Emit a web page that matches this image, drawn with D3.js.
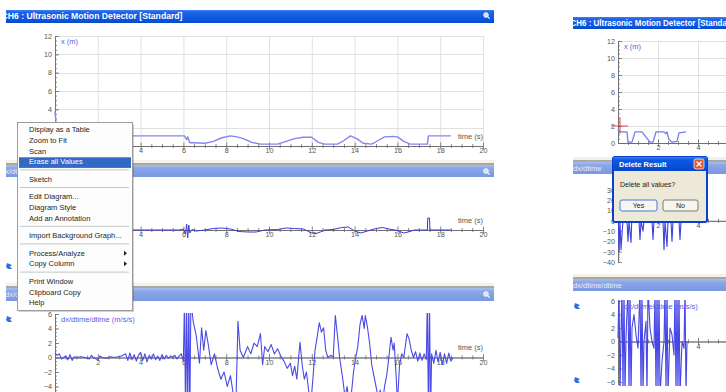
<!DOCTYPE html>
<html>
<head>
<meta charset="utf-8">
<script src="https://cdn.jsdelivr.net/npm/d3@7"></script>
<style>
  html, body { margin: 0; padding: 0; background: #fff; }
  svg { display: block; font-family: "Liberation Sans", Arial, sans-serif; }
</style>
</head>
<body>
<svg id="c" width="726" height="392"></svg>
<script>
// ---------------- data ----------------
const timeTicks = [2, 4, 6, 8, 10, 12, 14, 16, 18, 20];
const posYTicks = [0, 2, 4, 6, 8, 10, 12];
const velYTicksL = [];
const velYTicksR = [-40, -30, -20, -10, 0, 10, 20, 30];
const accYTicksL = [-4, -2, 0, 2, 4, 6];
const accYTicksR = [-6, -4, -2, 0, 2, 4, 6];

// position x (m) vs time (s), main run
const posT = [0, 0.05, 0.1, 6.05, 6.15, 6.2, 6.3, 6.5, 7.0, 7.4, 7.8, 8.2, 8.5, 8.8, 9.2, 9.6, 10.4, 10.8, 11.2, 11.6, 12.0, 12.3, 12.6, 13.2, 13.5, 13.8, 14.1, 14.4, 14.8, 15.1, 15.4, 15.8, 16.0, 16.3, 16.6, 17.4, 17.45, 18.5];
const posX = [3.8, 2.5, 1.1, 1.1, 0.7, 1.0, 0.35, 0.35, 0.3, 0.5, 0.9, 1.1, 1.0, 0.8, 0.4, 0.2, 0.2, 0.5, 0.8, 0.95, 0.95, 0.4, 0.2, 0.2, 0.6, 1.1, 0.8, 0.3, 0.2, 0.6, 1.0, 1.05, 1.0, 0.5, 0.2, 0.2, 1.1, 1.1];

// velocity dx/dtime (m/s)
const velT = [0, 0.1, 0.2, 1, 2, 3, 4, 5, 5.8, 6.0, 6.1, 6.15, 6.2, 6.25, 6.3, 6.4, 6.6, 7.0, 7.4, 7.8, 8.2, 8.6, 9.0, 9.4, 9.8, 10.4, 10.8, 11.2, 11.6, 12.0, 12.2, 12.4, 12.6, 13.0, 13.4, 13.7, 14.0, 14.3, 14.6, 15.0, 15.3, 15.6, 16.0, 16.3, 16.5, 16.8, 17.2, 17.4, 17.42, 17.5, 17.52, 17.7, 18.2, 18.5];
const velV = [-25, -10, 0, 0, 0, 0, 0, 0, 0, 1, -4, 6, -8, 5, -3, 0.5, -1, 0, 1.5, 2, 1, -1.5, -2, -2, 0, 0.5, 2, 1.5, 1, -3, -3.5, -2, 0, 0.5, 2.5, 3, -1, -3, -1, 1.5, 2.5, 1, -0.5, -3, -2, 0, 0, 0, 12, 12, 0, 0, 0, 0];

// acceleration dx/dtime/dtime (m/s/s)
const accT = [0, 0.1, 0.2, 0.3, 0.5, 0.6, 0.7, 0.8, 0.9, 1.0, 1.2, 1.4, 1.6, 1.7, 1.8, 2.0, 2.1, 2.2, 2.4, 2.6, 2.8, 3.1, 3.3, 3.4, 3.5, 3.6, 3.7, 3.8, 3.9, 4.0, 4.1, 4.2, 4.3, 4.4, 4.5, 4.6, 4.7, 4.8, 4.9, 5.0, 5.1, 5.2, 5.3, 5.4, 5.5, 5.6, 5.7, 5.8, 5.9, 6.0,
  6.05, 6.1, 6.15, 6.2, 6.25, 6.3, 6.35, 6.45, 6.6, 6.75, 6.85, 6.95, 7.05, 7.15, 7.3, 7.45, 7.6, 7.75, 7.9, 8.05, 8.2, 8.35, 8.45, 8.55, 8.65, 8.8, 9.0, 9.15, 9.3, 9.45, 9.6, 9.7, 9.8, 9.95, 10.1, 10.25, 10.4, 10.55, 10.7, 10.85, 11.0, 11.1, 11.2, 11.3, 11.4, 11.45, 11.55, 11.65, 11.75, 11.85, 11.95,
  12.05, 12.15, 12.25, 12.35, 12.45, 12.55, 12.65, 12.75, 12.9, 13.0, 13.1, 13.2, 13.3, 13.45, 13.55, 13.65, 13.75, 13.85, 13.95, 14.05, 14.15, 14.25, 14.35, 14.45, 14.5, 14.6, 14.7, 14.8, 14.9, 15.0, 15.1, 15.2, 15.3, 15.4, 15.5, 15.6, 15.7, 15.8, 15.85, 15.95, 16.0, 16.1, 16.2, 16.3, 16.45, 16.55, 16.65, 16.75, 16.85, 16.95,
  17.05, 17.15, 17.25, 17.35, 17.4, 17.45, 17.5, 17.55, 17.6, 17.7, 17.8, 17.9, 18.0, 18.1, 18.2, 18.3, 18.4, 18.5, 18.6];
const accA = [0.6, 0.3, 0.5, -0.2, 0.2, -0.3, 0.4, -0.4, 0.1, 0, 0.1, 0, -0.2, 0.3, 0, -0.3, 0.2, 0, -0.1, 0.1, 0, 0.2, 0.5, -0.4, 0.6, -0.3, 0.4, -0.5, 0.3, 0.7, -0.4, 0.5, -0.6, 0.3, -0.2, 0.5, -0.3, 0.2, -0.4, 0.4, -0.2, 0.3, -0.1, 0.2, 0, 0.3, -0.2, 0.2, 0.5, -0.5,
  8, -8, 8, -8, 8, -8, 8, 5.1, 3, -0.8, 4.1, 1, 3.7, 2, -1, 0.5, -1.5, -3, -2, -4, -2.5, -5.5, -7, 5, 1, 0, 1.5, 0.5, 2, 1.5, 3.3, -1, 1.5, 0.8, 1.8, 0.5, 1.2, 0.2, -0.5, -1.5, -0.8, -2.5, -1.2, -3, 0.5, 2.1, -1, -3, -2, -4.5, -6.5,
  -3, 1, 2.8, 4.8, 3.5, 4.1, 1, 0, 0.3, 0, 5.8, 3, 0, -3, -5.5, -4, -6.5, -5, -2, 0, 1.5, 4.5, 5.8, 4, 5.8, 4.2, 2, -1, -2.5, -4, -5.5, -4.5, -6.5, -4, -2.5, 0, 2.8, 1, 2, -3, -6.5, -1, 0.5, 0, 3.3, 2.5, 1, 0, 0.8, -0.5,
  0.6, -0.4, 0.5, -0.3, 8, -8, 8, -8, 0.5, -0.8, 1, -0.6, 0.7, -1, 0.5, -0.8, 0.6, -0.5, 0];

// second run (short recording)
const rPosT = [0, 0.05, 0.45, 0.5, 0.7, 0.85, 1.2, 1.4, 1.6, 1.75, 1.9, 2.3, 2.4, 2.45, 2.55, 2.7, 2.95, 3.05, 3.4];
const rPosX = [1.6, 1.3, 1.3, 0.1, 0.1, 1.3, 1.3, 0.7, 0.1, 0.1, 1.3, 1.3, 1.1, 1.3, 0.4, 0.1, 0.2, 1.2, 1.3];
const rVelT = [0, 0.05, 0.1, 0.15, 0.3, 0.45, 0.5, 0.55, 0.65, 0.7, 0.9, 1.05, 1.1, 1.15, 1.25, 1.3, 1.5, 1.7, 1.75, 1.8, 1.9, 2.25, 2.3, 2.35, 2.45, 2.5, 2.65, 2.7, 2.75, 3.0, 3.05, 3.1, 3.15, 3.4];
const rVelV = [20, -30, 0, -28, 15, 0, -20, 0, -21, 8, 20, 0, -18, 0, -10, 0, 2, 0, -18, 0, 18, 0, -28, 0, -25, 0, 0, -20, 0, 15, 0, -18, 0, 0];
const rAccT = [0, 0.05, 0.1, 0.15, 0.2, 0.25, 0.3, 0.35, 0.4, 0.5, 0.55, 0.6, 0.65, 0.7, 0.8, 0.9, 1.0, 1.1, 1.15, 1.2, 1.25, 1.3, 1.4, 1.45, 1.5, 1.6, 1.7, 1.8, 1.85, 1.9, 1.95, 2.0, 2.05, 2.1, 2.2, 2.3, 2.35, 2.4, 2.45, 2.5, 2.6, 2.7, 2.8, 2.85, 2.9, 2.95, 3.0, 3.05, 3.1, 3.2, 3.3, 3.35, 3.4, 3.45];
const rAccA = [0.5, 8, -8, 1, 8, -8, 8, -8, 0.5, 8, -8, 8, -8, 2, 4, 1, -1, 8, -8, 8, -8, 0, 3, -8, 8, 2, 0, -1, 8, -8, 8, -8, 8, -8, -3, 0, 8, -8, 8, -8, 2, 1, -2, 8, -8, 8, -8, 8, -8, 0, -1, 8, -8, 0];

const menuItems = ["Display as a Table", "Zoom to Fit", "Scan", "Erase all Values", "-", "Sketch", "-", "Edit Diagram...", "Diagram Style", "Add an Annotation", "-", "Import Background Graph...", "-", "Process/Analyze>", "Copy Column>", "-", "Print Window", "Clipboard Copy", "Help"];
const highlighted = "Erase all Values";

// ---------------- drawing ----------------
const W = 726, H = 392;
const svg = d3.select("#c");
const defs = svg.append("defs");

function vgrad(id, stops) {
  const g = defs.append("linearGradient").attr("id", id)
    .attr("x1", 0).attr("y1", 0).attr("x2", 0).attr("y2", 1);
  stops.forEach(([o, c]) => g.append("stop").attr("offset", o).attr("stop-color", c));
}
vgrad("gActive", [[0, "#3d80f4"], [0.18, "#1c63ea"], [0.8, "#0853dd"], [1, "#0a48c6"]]);
vgrad("gInactive", [[0, "#a9bff0"], [0.25, "#8ba7e7"], [1, "#7a98e0"]]);
vgrad("gDlg", [[0, "#3d80f4"], [0.2, "#0a5ae6"], [1, "#0747cc"]]);

function addClip(id, x, y, w, h) {
  defs.append("clipPath").attr("id", id).append("rect")
    .attr("x", x).attr("y", y).attr("width", w).attr("height", h);
}
addClip("clipL", 6, 0, 488, H);
addClip("clipR", 573, 0, W - 573, H);

const left = svg.append("g").attr("clip-path", "url(#clipL)");
const right = svg.append("g").attr("clip-path", "url(#clipR)");

function header(g, x, y, w, h, label, active, textX, textLen) {
  g.append("rect").attr("x", x).attr("y", y).attr("width", w).attr("height", h)
    .attr("fill", active ? "url(#gActive)" : "url(#gInactive)");
  const t = g.append("text").attr("x", textX).attr("y", y + h / 2 + 2.9)
    .attr("fill", active ? "#ffffff" : "#e6ecfb")
    .attr("font-size", active ? 8.3 : 7.5)
    .attr("font-weight", active ? "bold" : "normal")
    .text(label);
  if (textLen) t.attr("textLength", textLen).attr("lengthAdjust", "spacingAndGlyphs");
}
function separator(g, x, y, w) {
  g.append("rect").attr("x", x).attr("y", y - 3).attr("width", w).attr("height", 3).attr("fill", "#f3f1ea");
  g.append("rect").attr("x", x).attr("y", y).attr("width", w).attr("height", 2).attr("fill", "#a9a8a2");
}
function magnifier(g, cx, cy) {
  g.append("circle").attr("cx", cx).attr("cy", cy).attr("r", 2.3)
    .attr("fill", "#cfe0ff").attr("stroke", "#ffffff").attr("stroke-width", 0.9);
  g.append("line").attr("x1", cx + 1.6).attr("y1", cy + 1.6).attr("x2", cx + 3.6).attr("y2", cy + 3.6)
    .attr("stroke", "#ffffff").attr("stroke-width", 1.2);
}
function blueIcon(g, x, y) {
  g.append("path")
    .attr("d", `M${x - 2},${y - 3} L${x + 3},${y - 1} L${x + 1},${y + 0.5} L${x + 3},${y + 3} L${x - 1},${y + 3} L${x - 3},${y + 1} Z`)
    .attr("fill", "#2f74d6");
}

function drawChart(g, cfg) {
  const x = d3.scaleLinear().domain([0, 20]).range([cfg.left, cfg.left + cfg.secPx * 20]);
  const y = d3.scaleLinear().domain(cfg.yDomain).range(cfg.yRange);
  const yTop = y(cfg.yDomain[1]);
  const visT = timeTicks.filter(v => x(v) < cfg.maxX);

  if (cfg.grid) {
    const gg = g.append("g").attr("stroke", "#e1e1e1").attr("stroke-width", 1);
    gg.selectAll("line.v").data(d3.range(0, 21, 2)).join("line")
      .attr("x1", d => x(d) + 0.5).attr("x2", d => x(d) + 0.5)
      .attr("y1", y(cfg.yDomain[1])).attr("y2", y(0));
    gg.selectAll("line.h").data(d3.range(0, cfg.yDomain[1] + 1, 2)).join("line")
      .attr("x1", x(0)).attr("x2", x(20))
      .attr("y1", d => Math.round(y(d)) + 0.5).attr("y2", d => Math.round(y(d)) + 0.5);
  }

  // y axis: ruler-style ticks pointing into the plot, labels to the left
  const minorY = d3.range(cfg.yDomain[0], cfg.yDomain[1] + 1e-9, cfg.yMinor);
  const yMin = g.append("g").attr("transform", `translate(${x(0)},0)`)
    .call(d3.axisLeft(y).tickValues(minorY).tickSize(-2).tickSizeOuter(0).tickFormat(""));
  const yAx = g.append("g").attr("transform", `translate(${x(0)},0)`)
    .call(d3.axisLeft(y).tickValues(cfg.yTicks).tickSize(-4).tickSizeOuter(0).tickPadding(3));
  [yMin, yAx].forEach(a => {
    a.attr("font-family", null).attr("font-size", null);
    a.selectAll("path,line").attr("stroke", "#707070").attr("stroke-width", 0.8);
  });
  yAx.selectAll("text").attr("fill", "#555").attr("font-size", 7.2);

  // x axis: ticks cross the line
  const minorX = d3.range(1, 40).map(i => i / 2).filter(v => v % 2 !== 0);
  const xMin = g.append("g").attr("transform", `translate(0,${y(0)})`)
    .call(d3.axisBottom(x).tickValues(minorX).tickSize(2).tickSizeOuter(0).tickFormat(""));
  xMin.selectAll(".tick line").attr("y1", -2);
  const xAx = g.append("g").attr("transform", `translate(0,${y(0)})`)
    .call(d3.axisBottom(x).tickValues(visT).tickSize(3.5).tickSizeOuter(0).tickPadding(-1.5).tickFormat(d3.format("d")));
  xAx.selectAll(".tick line").attr("y1", -3.5);
  [xMin, xAx].forEach(a => {
    a.attr("font-family", null).attr("font-size", null);
    a.selectAll("path,line").attr("stroke", "#6a6a6a").attr("stroke-width", 0.8);
  });
  xAx.selectAll("text").attr("fill", "#555").attr("font-size", 7.2);

  // data
  const cid = "clip-" + cfg.id;
  addClip(cid, x(0) - 1, yTop - 1, x(20) - x(0) + 2, cfg.clipBottom - yTop + 1);
  g.append("path")
    .datum(d3.zip(cfg.t, cfg.v))
    .attr("clip-path", `url(#${cid})`)
    .attr("fill", "none")
    .attr("stroke", cfg.color)
    .attr("stroke-width", cfg.width)
    .attr("stroke-linejoin", "round")
    .attr("d", d3.line().x(d => x(d[0])).y(d => y(d[1])));

  // labels
  if (x(20) < cfg.maxX) {
    g.append("text").attr("x", x(20)).attr("y", y(0) - 7).attr("text-anchor", "end")
      .attr("font-size", 7.5).attr("fill", "#555").text("time (s)");
  }
  if (cfg.label) {
    g.append("text").attr("x", x(0) + 6).attr("y", yTop + 8)
      .attr("font-size", 7.5).attr("fill", "#5a5ae8").text(cfg.label);
  }
  return { x, y };
}

// ----- left window (main run) -----
header(left, 6, 10, 488, 13, "CH6 : Ultrasonic Motion Detector [Standard]", true, 1.5, 181);
magnifier(left, 486, 15);

drawChart(left, { id: "lp", left: 55, secPx: 21.4, maxX: 494, yDomain: [0, 12], yRange: [146, 36], yTicks: posYTicks, yMinor: 0.5,
  grid: true, t: posT, v: posX, color: "#8585f2", width: 1.4, clipBottom: 150, label: "x (m)" });

separator(left, 6, 163, 488);
header(left, 6, 165, 488, 12, "dx/dtime", false, 1);
magnifier(left, 486, 171);

drawChart(left, { id: "lv", left: 55, secPx: 21.4, maxX: 494, yDomain: [-50, 50], yRange: [280, 180], yTicks: velYTicksL, yMinor: 5,
  grid: false, t: velT, v: velV, color: "#3b3bd6", width: 1, clipBottom: 281, label: null });

separator(left, 6, 286, 488);
header(left, 6, 288, 488, 13, "dx/dtime/dtime", false, 5);
magnifier(left, 486, 294);

drawChart(left, { id: "la", left: 55, secPx: 21.4, maxX: 494, yDomain: [-6.5, 6], yRange: [404.6, 314], yTicks: accYTicksL, yMinor: 0.5,
  grid: false, t: accT, v: accA, color: "#4a4ae8", width: 1.1, clipBottom: 400, label: "dx/dtime/dtime (m/s/s)" });

blueIcon(left, 9, 266);
blueIcon(left, 9, 319);

// ----- right window (second run) -----
header(right, 573, 17, 153, 12, "CH6 : Ultrasonic Motion Detector [Standard]", true, 570.5, 167);

const rp = drawChart(right, { id: "rp", left: 618, secPx: 20, maxX: 722, yDomain: [0, 12], yRange: [143, 41], yTicks: posYTicks, yMinor: 0.5,
  grid: true, t: rPosT, v: rPosX, color: "#7a7aee", width: 1.3, clipBottom: 147, label: "x (m)" });
// cursor cross at the start of the run
right.append("line").attr("x1", rp.x(0) - 7).attr("x2", rp.x(0) + 10).attr("y1", rp.y(2)).attr("y2", rp.y(2))
  .attr("stroke", "#e23030").attr("stroke-width", 0.9);
right.append("line").attr("x1", rp.x(0.1)).attr("x2", rp.x(0.1)).attr("y1", rp.y(3)).attr("y2", rp.y(1.1))
  .attr("stroke", "#e23030").attr("stroke-width", 0.9);

separator(right, 573, 160, 153);
header(right, 573, 162, 153, 12, "dx/dtime", false, 573);

drawChart(right, { id: "rv", left: 618, secPx: 20, maxX: 722, yDomain: [-40, 30], yRange: [262, 190], yTicks: velYTicksR, yMinor: 2.5,
  grid: false, t: rVelT, v: rVelV, color: "#4040dc", width: 1.1, clipBottom: 265, label: null });

separator(right, 573, 277, 153);
header(right, 573, 279, 153, 12, "dx/dtime/dtime", false, 573);

drawChart(right, { id: "ra", left: 618, secPx: 20, maxX: 722, yDomain: [-6.3, 6], yRange: [384, 301], yTicks: accYTicksR, yMinor: 0.5,
  grid: false, t: rAccT, v: rAccA, color: "#4747e6", width: 1.1, clipBottom: 386, label: "dx/dtime/dtime (m/s/s)" });

blueIcon(right, 577, 306);
blueIcon(right, 577, 380);

// ----- context menu -----
const menu = svg.append("g");
const mx = 17, my = 122, mw = 115;
let cy = my + 2;
const laid = menuItems.map(s => {
  const h = s === "-" ? 7 : 10.6;
  const r = { s, y: cy, h };
  cy += h;
  return r;
});
const mh = cy + 2.6 - my;
menu.append("rect").attr("x", mx + 2).attr("y", my + 2).attr("width", mw).attr("height", mh).attr("fill", "#000").attr("opacity", 0.18);
menu.append("rect").attr("x", mx + 0.5).attr("y", my + 0.5).attr("width", mw).attr("height", mh)
  .attr("fill", "#fdfdfd").attr("stroke", "#9c9c9c").attr("stroke-width", 1);
laid.forEach(r => {
  if (r.s === "-") {
    menu.append("line").attr("x1", mx + 3).attr("x2", mx + mw - 3)
      .attr("y1", r.y + r.h / 2).attr("y2", r.y + r.h / 2).attr("stroke", "#c5c5c5").attr("stroke-width", 1);
    return;
  }
  const hasSub = r.s.endsWith(">");
  const label = hasSub ? r.s.slice(0, -1) : r.s;
  const hi = label === highlighted;
  if (hi) {
    menu.append("rect").attr("x", mx + 2).attr("y", r.y + 1.5).attr("width", mw - 3).attr("height", r.h)
      .attr("fill", "#316ac5");
  }
  menu.append("text").attr("x", mx + 12).attr("y", r.y + r.h / 2 + 3)
    .attr("font-size", 7.5).attr("fill", hi ? "#fff" : "#1e1e1e").text(label);
  if (hasSub) {
    const ay = r.y + r.h / 2 + 0.5;
    menu.append("path").attr("d", `M${mx + mw - 8},${ay - 2.5} L${mx + mw - 5},${ay} L${mx + mw - 8},${ay + 2.5} Z`).attr("fill", "#222");
  }
});

// ----- confirmation dialog -----
const dlg = svg.append("g");
const dx = 613, dy = 157, dw = 94, dh = 65;
dlg.append("rect").attr("x", dx).attr("y", dy).attr("width", dw).attr("height", dh).attr("rx", 2)
  .attr("fill", "#ece9d8").attr("stroke", "#0a3fd0").attr("stroke-width", 2);
dlg.append("rect").attr("x", dx).attr("y", dy).attr("width", dw).attr("height", 14).attr("rx", 2).attr("fill", "url(#gDlg)");
dlg.append("text").attr("x", dx + 6).attr("y", dy + 10).attr("font-size", 7.5).attr("font-weight", "bold")
  .attr("fill", "#fff").text("Delete Result");
dlg.append("rect").attr("x", dx + dw - 13).attr("y", dy + 2).attr("width", 10).attr("height", 10).attr("rx", 2)
  .attr("fill", "#e2552e").attr("stroke", "#fff").attr("stroke-width", 0.7);
dlg.append("path").attr("d", `M${dx + dw - 10.5},${dy + 4.5} L${dx + dw - 5.5},${dy + 9.5} M${dx + dw - 5.5},${dy + 4.5} L${dx + dw - 10.5},${dy + 9.5}`)
  .attr("stroke", "#fff").attr("stroke-width", 1.3);
dlg.append("text").attr("x", dx + 7).attr("y", dy + 30).attr("font-size", 7).attr("fill", "#222").text("Delete all values?");
[["Yes", dx + 7, 37, "#4a78d8"], ["No", dx + 50, 35, "#7a7a7a"]].forEach(([t, bx, bw, sc]) => {
  dlg.append("rect").attr("x", bx).attr("y", dy + 43).attr("width", bw).attr("height", 11).attr("rx", 2)
    .attr("fill", "#f6f5f0").attr("stroke", sc).attr("stroke-width", 1);
  dlg.append("text").attr("x", bx + bw / 2).attr("y", dy + 51).attr("text-anchor", "middle")
    .attr("font-size", 7).attr("fill", "#222").text(t);
});
</script>
</body>
</html>
